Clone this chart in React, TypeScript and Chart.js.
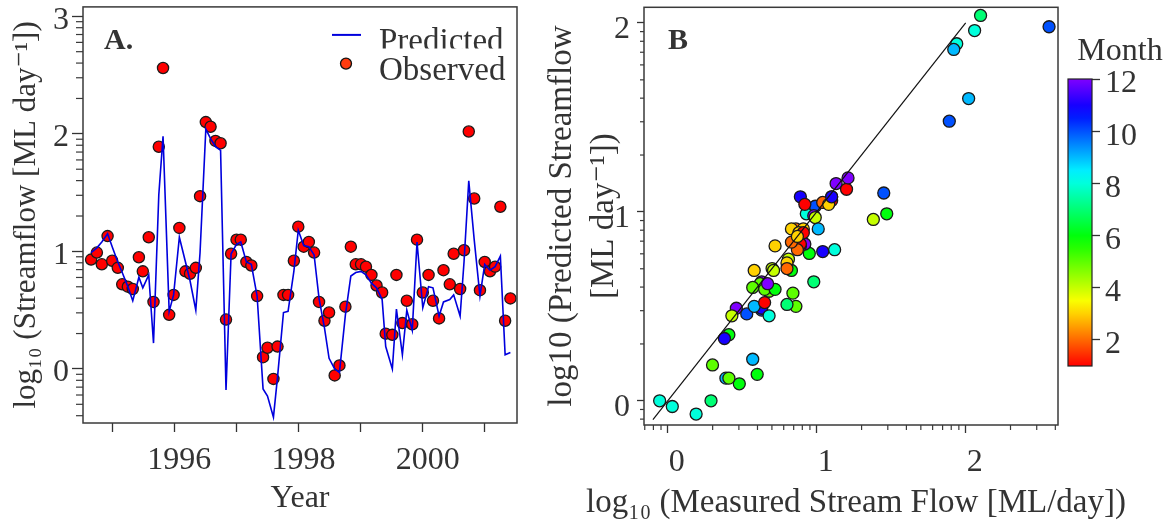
import React, { useEffect, useRef } from 'react';
import { Chart, registerables } from 'chart.js';

Chart.register(...registerables);

const FONT = "'Liberation Serif', 'DejaVu Serif', serif";
const TEXT = '#333333';

// Sampling dates (about monthly)
const sampleDates = [
  '1994-08-30', '1994-10-03', '1994-11-01', '1994-12-05', '1995-01-01', '1995-02-03', '1995-03-01', '1995-04-03',
  '1995-05-02', '1995-06-07', '1995-06-30', '1995-08-04', '1995-09-01', '1995-10-02', '1995-10-27', '1995-12-02',
  '1995-12-28', '1996-01-31', '1996-03-07', '1996-04-03', '1996-05-07', '1996-06-01', '1996-07-05', '1996-08-02',
  '1996-08-31', '1996-09-30', '1996-11-01', '1996-12-01', '1997-01-02', '1997-01-27', '1997-03-01', '1997-03-30',
  '1997-05-03', '1997-06-07', '1997-07-03', '1997-08-07', '1997-08-31', '1997-10-05', '1997-11-01', '1997-12-05',
  '1997-12-31', '1998-02-01', '1998-03-03', '1998-04-03', '1998-05-02', '1998-06-03', '1998-06-30', '1998-08-02',
  '1998-08-30', '1998-10-04', '1998-11-05', '1998-12-04', '1999-01-04', '1999-02-02', '1999-03-06', '1999-04-05',
  '1999-05-08', '1999-05-29', '1999-07-07', '1999-07-31', '1999-09-04', '1999-09-30', '1999-11-01', '1999-11-29',
  '2000-01-02', '2000-02-05', '2000-03-02', '2000-04-07', '2000-05-03', '2000-06-09', '2000-07-02', '2000-08-09',
  '2000-09-01', '2000-09-29', '2000-10-31', '2000-12-04', '2001-01-01', '2001-02-01', '2001-03-03', '2001-04-03',
  '2001-05-01', '2001-06-01',
];

// log10 observed streamflow
const observed = [
  0.93, 0.99, 0.89, 1.13, 0.92, 0.86, 0.72, 0.70, 0.68, 0.95,
  0.83, 1.12, 0.57, 1.89, 2.56, 0.46, 0.63, 1.20, 0.83, 0.81,
  0.86, 1.47, 2.10, 2.06, 1.94, 1.92, 0.42, 0.98, 1.10, 1.10,
  0.91, 0.88, 0.62, 0.10, 0.18, -0.085, 0.19, 0.63, 0.63, 0.92,
  1.21, 1.04, 1.08, 0.99, 0.57, 0.41, 0.48, -0.055, 0.03, 0.53,
  1.04, 0.89, 0.89, 0.87, 0.80, 0.71, 0.65, 0.30, 0.29, 0.80,
  0.39, 0.58, 0.38, 1.10, 0.65, 0.80, 0.58, 0.43, 0.84, 0.72,
  0.98, 0.68, 1.01, 2.02, 1.45, 0.67, 0.91, 0.83, 0.87, 1.38,
  0.41, 0.60,
];

// log10 predicted streamflow
const predicted = [
  0.99, 1.03, 1.08, 1.15, 1.04, 0.91, 0.82, 0.70, 0.58, 0.78,
  0.69, 0.80, 0.22, 1.48, 1.98, 0.49, 0.63, 1.12, 0.91, 0.75,
  0.50, 0.99, 2.04, 1.96, 1.89, 1.86, -0.18, 0.98, 1.06, 1.08,
  0.91, 0.89, 0.62, -0.17, -0.23, -0.41, -0.07, 0.48, 0.49, 0.83,
  1.18, 1.05, 1.04, 0.97, 0.60, 0.35, 0.09, 0.0, -0.03, 0.46,
  0.79, 0.82, 0.83, 0.80, 0.73, 0.69, 0.59, 0.19, 0.0, 0.51,
  0.12, 0.50, 0.33, 1.08, 0.52, 0.70, 0.69, 0.45, 0.57, 0.59,
  0.63, 0.45, 0.91, 1.60, 1.10, 0.62, 0.89, 0.84, 0.87, 0.96,
  0.12, 0.14,
];

const yearTicks = [1995, 1996, 1997, 1998, 1999, 2000, 2001];
const yearLabels = ['', '1996', '', '1998', '', '2000', ''];
const flowTicksA = [0, 1, 2, 3];
const logTicksB = [0, 1, 2];
const monthTicks = [2, 4, 6, 8, 10, 12];
const oneToOne = [-0.1, 2.0];

const decimalYear = (s: string) => {
  const [y, m, d] = s.split('-').map(Number);
  const start = Date.UTC(y, 0, 1);
  const end = Date.UTC(y + 1, 0, 1);
  return y + (Date.UTC(y, m - 1, d) - start) / (end - start);
};
const monthOf = (s: string) => Number(s.split('-')[1]);
const monthColor = (m: number) => `hsl(${((m - 1) / 11) * 270}, 100%, 50%)`;

const minorValues = (min: number, max: number) => {
  const out: number[] = [];
  for (let n = Math.floor(min) - 1; n <= Math.ceil(max); n++) {
    for (let k = 2; k <= 9; k++) {
      const v = n + Math.log10(k);
      if (v > min && v < max) out.push(v);
    }
  }
  return out;
};

const zeroPad = (s: any) => {
  s.paddingTop = 0;
  s.paddingBottom = 0;
  s.paddingLeft = 0;
  s.paddingRight = 0;
};

const framePlugin = {
  id: 'frame',
  afterDatasetsDraw(chart: any, _args: any, opts: any) {
    const { ctx, chartArea: ca } = chart;
    ctx.save();
    ctx.strokeStyle = '#3a3a3a';
    ctx.lineWidth = 1.5;
    ctx.strokeRect(ca.left, ca.top, ca.right - ca.left, ca.bottom - ca.top);
    ctx.lineWidth = 1.2;
    (opts.minor || []).forEach((m: any) => {
      const s = chart.scales[m.axis];
      minorValues(s.min, s.max).forEach((v) => {
        const p = s.getPixelForValue(v);
        ctx.beginPath();
        if (s.isHorizontal()) {
          ctx.moveTo(p, ca.bottom);
          ctx.lineTo(p, ca.bottom + m.len);
        } else {
          ctx.moveTo(ca.left, p);
          ctx.lineTo(ca.left - m.len, p);
        }
        ctx.stroke();
      });
    });
    ctx.fillStyle = TEXT;
    ctx.textAlign = 'left';
    ctx.textBaseline = 'alphabetic';
    if (opts.letter) {
      ctx.font = `bold 30px ${FONT}`;
      ctx.fillText(opts.letter, ca.left + opts.letterDx, ca.top + 42);
    }
    if (opts.xTitle) {
      ctx.font = `33px ${FONT}`;
      ctx.textAlign = 'center';
      ctx.textBaseline = 'middle';
      ctx.fillText(opts.xTitle, (ca.left + ca.right) / 2 + opts.xTitleDx, opts.xTitleY);
    }
    ctx.restore();
  },
};

const legendAPlugin = {
  id: 'legendA',
  afterDraw(chart: any) {
    const { ctx, chartArea: ca } = chart;
    ctx.save();
    ctx.strokeStyle = '#0000dd';
    ctx.lineWidth = 2;
    ctx.beginPath();
    ctx.moveTo(ca.right - 185, ca.top + 28);
    ctx.lineTo(ca.right - 156, ca.top + 28);
    ctx.stroke();
    ctx.font = `33px ${FONT}`;
    ctx.fillStyle = TEXT;
    ctx.textAlign = 'left';
    ctx.textBaseline = 'alphabetic';
    ctx.save();
    ctx.beginPath();
    ctx.rect(ca.right - 140, ca.top, 140, 41.5);
    ctx.clip();
    ctx.fillText('Predicted', ca.right - 138, ca.top + 44);
    ctx.restore();
    ctx.beginPath();
    ctx.arc(ca.right - 171, ca.top + 56.7, 5.5, 0, Math.PI * 2);
    ctx.fillStyle = '#ff3b0f';
    ctx.fill();
    ctx.lineWidth = 1.3;
    ctx.strokeStyle = '#111';
    ctx.stroke();
    ctx.fillStyle = TEXT;
    ctx.fillText('Observed', ca.right - 138, ca.top + 73);
    ctx.restore();
  },
};

const colorbarPlugin = {
  id: 'colorbar',
  beforeDatasetsDraw(chart: any) {
    const { ctx, chartArea: ca } = chart;
    const s = chart.scales.y;
    const yb = s.getPixelForValue(1);
    const yt = s.getPixelForValue(12);
    const g = ctx.createLinearGradient(0, yb, 0, yt);
    for (let i = 0; i <= 22; i++) {
      g.addColorStop(i / 22, `hsl(${(i / 22) * 270}, 100%, 50%)`);
    }
    ctx.save();
    ctx.fillStyle = g;
    ctx.fillRect(ca.left, yt, ca.right - ca.left, yb - yt);
    ctx.strokeStyle = '#222';
    ctx.lineWidth = 1.2;
    ctx.strokeRect(ca.left, yt, ca.right - ca.left, yb - yt);
    ctx.restore();
  },
};

const tickFont = { family: FONT, size: 32 };
const gridStyle = (len: number) => ({
  drawOnChartArea: false,
  drawTicks: true,
  tickLength: len,
  tickColor: '#333',
  tickWidth: 1.3,
});

function configA(): any {
  const xs = sampleDates.map(decimalYear);
  return {
    type: 'scatter',
    data: {
      datasets: [
        {
          type: 'line',
          label: 'Predicted',
          data: xs.map((x, i) => ({ x, y: predicted[i] })),
          borderColor: '#0000dd',
          borderWidth: 1.6,
          pointRadius: 0,
          tension: 0,
          fill: false,
          clip: 0,
        },
        {
          label: 'Observed',
          data: xs.map((x, i) => ({ x, y: observed[i] })),
          backgroundColor: '#ff0000',
          borderColor: '#1a1a1a',
          borderWidth: 1.3,
          pointRadius: 5.6,
          clip: 0,
        },
      ],
    },
    options: {
      responsive: false,
      animation: false,
      layout: { padding: { left: 0, right: 13, top: 5, bottom: 0 } },
      plugins: {
        legend: { display: false },
        tooltip: { enabled: false },
        frame: { minor: [{ axis: 'y', len: 7 }], letter: 'A.', letterDx: 21 },
      },
      scales: {
        x: {
          type: 'linear',
          min: 1994.53,
          max: 2001.52,
          afterBuildTicks: (s: any) => {
            s.ticks = yearTicks.map((v) => ({ value: v }));
          },
          afterFit: (s: any) => {
            s.height = 106;
            zeroPad(s);
          },
          ticks: {
            autoSkip: false,
            maxRotation: 0,
            font: tickFont,
            color: TEXT,
            padding: 9,
            labelOffset: 5,
            callback: (_v: any, i: number) => yearLabels[i],
          },
          grid: gridStyle(9),
          border: { display: false },
          title: {
            display: true,
            text: 'Year',
            font: { family: FONT, size: 32 },
            color: TEXT,
            padding: { top: 0, bottom: 11 },
          },
        },
        y: {
          type: 'linear',
          min: -0.46,
          max: 3.08,
          afterBuildTicks: (s: any) => {
            s.ticks = flowTicksA.map((v) => ({ value: v }));
          },
          afterFit: (s: any) => {
            s.width = 83;
            zeroPad(s);
          },
          ticks: {
            font: tickFont,
            color: TEXT,
            padding: 3,
            labelOffset: 4,
            callback: (v: any) => String(v),
          },
          grid: gridStyle(11),
          border: { display: false },
          title: {
            display: true,
            text: 'log₁₀ (Streamflow [ML day⁻¹])',
            font: { family: FONT, size: 31 },
            color: TEXT,
            padding: { top: 8, bottom: 0 },
          },
        },
      },
    },
    plugins: [framePlugin, legendAPlugin],
  };
}

function configB(): any {
  const pts = sampleDates.map((_s, i) => ({ x: observed[i], y: predicted[i] }));
  const colors = sampleDates.map((s) => monthColor(monthOf(s)));
  return {
    type: 'scatter',
    data: {
      datasets: [
        {
          type: 'line',
          label: '1:1',
          data: oneToOne.map((v) => ({ x: v, y: v })),
          borderColor: '#111',
          borderWidth: 1.2,
          pointRadius: 0,
          fill: false,
        },
        {
          label: 'Months',
          data: pts,
          backgroundColor: colors,
          borderColor: '#1a1a1a',
          borderWidth: 1.3,
          pointRadius: 6,
          clip: 0,
        },
      ],
    },
    options: {
      responsive: false,
      animation: false,
      layout: { padding: { left: 0, right: 114, top: 5, bottom: 0 } },
      plugins: {
        legend: { display: false },
        tooltip: { enabled: false },
        frame: {
          minor: [
            { axis: 'x', len: 5 },
            { axis: 'y', len: 4 },
          ],
          letter: 'B',
          letterDx: 24,
          xTitle: 'log₁₀ (Measured Stream Flow [ML/day])',
          xTitleDx: 5,
          xTitleY: 503,
        },
      },
      scales: {
        x: {
          type: 'linear',
          min: -0.16,
          max: 2.62,
          afterBuildTicks: (s: any) => {
            s.ticks = logTicksB.map((v) => ({ value: v }));
          },
          afterFit: (s: any) => {
            s.height = 104;
            zeroPad(s);
          },
          ticks: {
            autoSkip: false,
            maxRotation: 0,
            font: tickFont,
            color: TEXT,
            padding: 10,
            labelOffset: 9,
            callback: (v: any) => String(v),
          },
          grid: gridStyle(8),
          border: { display: false },
        },
        y: {
          type: 'linear',
          min: -0.128,
          max: 2.083,
          afterBuildTicks: (s: any) => {
            s.ticks = logTicksB.map((v) => ({ value: v }));
          },
          afterFit: (s: any) => {
            s.width = 114;
            zeroPad(s);
          },
          ticks: {
            font: tickFont,
            color: TEXT,
            padding: 7,
            labelOffset: 7,
            callback: (v: any) => String(v),
          },
          grid: gridStyle(7),
          border: { display: false },
          title: {
            display: true,
            text: ['log10 (Predicted Streamflow', '[ML day⁻¹])'],
            font: { family: FONT, size: 33, lineHeight: 1.25 },
            color: TEXT,
            padding: { top: 12, bottom: 0 },
          },
        },
      },
    },
    plugins: [framePlugin],
  };
}

function configC(): any {
  return {
    type: 'scatter',
    data: { datasets: [] },
    options: {
      responsive: false,
      animation: false,
      layout: { padding: { left: 8, right: 0, top: 1.6, bottom: 163 } },
      plugins: {
        legend: { display: false },
        tooltip: { enabled: false },
        title: {
          display: true,
          text: 'Month',
          font: { family: FONT, size: 32, weight: 'normal' },
          color: TEXT,
          padding: { top: 31, bottom: 8 },
        },
      },
      scales: {
        x: { display: false, min: 0, max: 1 },
        y: {
          type: 'linear',
          position: 'right',
          min: 1,
          max: 12,
          afterBuildTicks: (s: any) => {
            s.ticks = monthTicks.map((v) => ({ value: v }));
          },
          afterFit: (s: any) => {
            s.width = 80;
            zeroPad(s);
          },
          ticks: {
            font: tickFont,
            color: TEXT,
            padding: 5,
            labelOffset: 5,
            callback: (v: any) => String(v),
          },
          grid: gridStyle(8),
          border: { display: false },
        },
      },
    },
    plugins: [colorbarPlugin],
  };
}

export default function App() {
  const aRef = useRef<HTMLCanvasElement>(null);
  const bRef = useRef<HTMLCanvasElement>(null);
  const cRef = useRef<HTMLCanvasElement>(null);

  useEffect(() => {
    const charts = [
      new Chart(aRef.current as HTMLCanvasElement, configA()),
      new Chart(bRef.current as HTMLCanvasElement, configB()),
      new Chart(cRef.current as HTMLCanvasElement, configC()),
    ];
    return () => charts.forEach((c) => c.destroy());
  }, []);

  return (
    <div style={{ position: 'absolute', left: 0, top: 0, width: 1172, height: 529, background: '#ffffff' }}>
      <canvas ref={aRef} width={530} height={529} style={{ position: 'absolute', left: 0, top: 0, display: 'block' }} />
      <canvas ref={bRef} width={642} height={529} style={{ position: 'absolute', left: 530, top: 0, display: 'block' }} />
      <canvas ref={cRef} width={112} height={529} style={{ position: 'absolute', left: 1060, top: 0, display: 'block' }} />
    </div>
  );
}
